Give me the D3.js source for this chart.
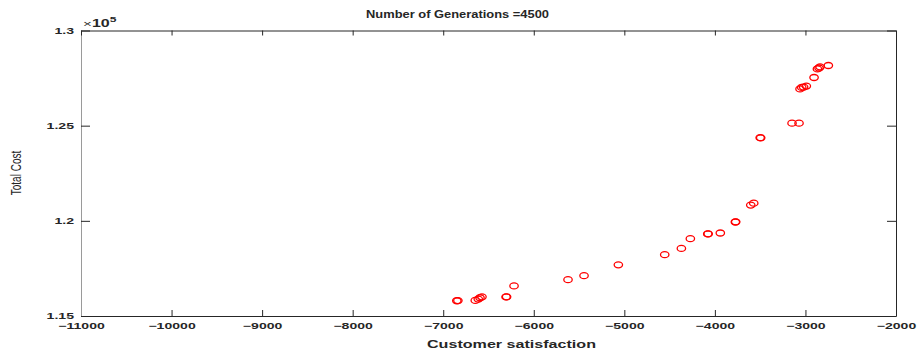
<!DOCTYPE html>
<html>
<head>
<meta charset="utf-8">
<script src="https://cdn.jsdelivr.net/npm/d3@7"></script>
<style>
  html, body { margin: 0; padding: 0; background: #fff; }
  svg { display: block; }
  text { font-family: "Liberation Sans", Arial, Helvetica, sans-serif; fill: #262626; }
</style>
</head>
<body>
<svg id="chart" width="917" height="352"></svg>
<script>
// Pareto front after the final generation: customer satisfaction vs total cost (x1e5)
const satisfaction = [
  -6850, -6838, -6646, -6613, -6594, -6572, -6306, -6300, -6218,
  -5622, -5445, -5066, -4554, -4370, -4271, -4079, -4074, -3940,
  -3774, -3770, -3604, -3571, -3500, -3494, -3148, -3071,
  -3060, -3041, -3020, -2990, -2905, -2868, -2850, -2839, -2747
];
const totalCost = [
  1.1580, 1.1581, 1.1582, 1.1589, 1.1596, 1.1601, 1.1600, 1.1601, 1.1658,
  1.1691, 1.1712, 1.1769, 1.1822, 1.1855, 1.1906, 1.1931, 1.1932, 1.1936,
  1.1994, 1.1995, 1.2083, 1.2093, 1.2437, 1.2436, 1.2513, 1.2513,
  1.2693, 1.2701, 1.2703, 1.2708, 1.2753, 1.2798, 1.2803, 1.2809, 1.2816
];
const xTicks = [-11000, -10000, -9000, -8000, -7000, -6000, -5000, -4000, -3000, -2000];
const yTicks = [1.15, 1.2, 1.25, 1.3];
const titleText = "Number of Generations =4500";
const xLabelText = "Customer satisfaction";
const yLabelText = "Total Cost";

const svg = d3.select("#chart");
const box = { left: 81, right: 896, top: 30.5, bottom: 316 };
const sx = 1.6; // horizontal glyph stretch used for all labels

const x = d3.scaleLinear().domain([-11000, -2000]).range([box.left, box.right]);
const y = d3.scaleLinear().domain([1.15, 1.3]).range([box.bottom, box.top]);

svg.append("rect").attr("width", 917).attr("height", 352).attr("fill", "#fff");

// bottom axis with inward ticks
const gx = svg.append("g").attr("transform", `translate(0,${box.bottom})`)
  .call(d3.axisBottom(x).tickValues(xTicks).tickSizeInner(-6).tickSizeOuter(0).tickFormat(d3.format("d")));
gx.selectAll("text")
  .attr("y", 13.3).attr("dy", null).attr("x", 0)
  .attr("text-anchor", "middle")
  .attr("transform", `scale(${sx},1)`)
  .style("font-size", "8.8px").style("font-weight", "bold").style("fill", "#262626");

// left axis with inward ticks
const gy = svg.append("g").attr("transform", `translate(${box.left},0)`)
  .call(d3.axisLeft(y).tickValues(yTicks).tickSizeInner(-9).tickSizeOuter(0).tickFormat(d => d3.format(".2~f")(d)));
gy.selectAll("text")
  .attr("x", -7 / sx).attr("dy", "0.34em")
  .attr("transform", `scale(${sx},1)`)
  .style("font-size", "8.8px").style("font-weight", "bold").style("fill", "#262626");

// mirrored top and right axes (ticks only)
svg.append("g").attr("transform", `translate(0,${box.top})`)
  .call(d3.axisTop(x).tickValues(xTicks).tickSizeInner(-5).tickSizeOuter(0).tickFormat(""));
svg.append("g").attr("transform", `translate(${box.right},0)`)
  .call(d3.axisRight(y).tickValues(yTicks).tickSizeInner(-9).tickSizeOuter(0).tickFormat(""));

svg.selectAll(".domain, .tick line").attr("stroke", "#262626").attr("stroke-width", 1);
gy.select(".domain").attr("stroke", "#9a9a9a");

// exponent marker above the y axis
const ex = svg.append("text").attr("transform", `translate(83,27.3) scale(${sx},1)`);
ex.append("tspan").text("\u00d7").style("font-size", "9.5px");
ex.append("tspan").text("10").style("font-weight", "bold").style("font-size", "10px");
ex.append("tspan").text("5").attr("dy", -5).style("font-weight", "bold").style("font-size", "7.5px");

// titles
svg.append("text").attr("x", 366).attr("y", 17.5)
  .attr("textLength", 183).attr("lengthAdjust", "spacingAndGlyphs")
  .style("font-size", "10.8px").style("font-weight", "bold").text(titleText);
svg.append("text").attr("x", 427).attr("y", 348.3)
  .attr("textLength", 169).attr("lengthAdjust", "spacingAndGlyphs")
  .style("font-size", "10.5px").style("font-weight", "bold").text(xLabelText);
svg.append("text").attr("transform", `translate(20.5,173) scale(1.5,1) rotate(-90)`)
  .attr("text-anchor", "middle")
  .style("font-size", "10px").text(yLabelText);

// markers
const pts = satisfaction.map((s, i) => ({ s, c: totalCost[i] }));
svg.append("g").selectAll("ellipse").data(pts).join("ellipse")
  .attr("cx", d => x(d.s)).attr("cy", d => y(d.c))
  .attr("rx", 4.2).attr("ry", 3)
  .attr("fill", "none").attr("stroke", "#ff0000").attr("stroke-width", 1.3);
</script>
</body>
</html>
